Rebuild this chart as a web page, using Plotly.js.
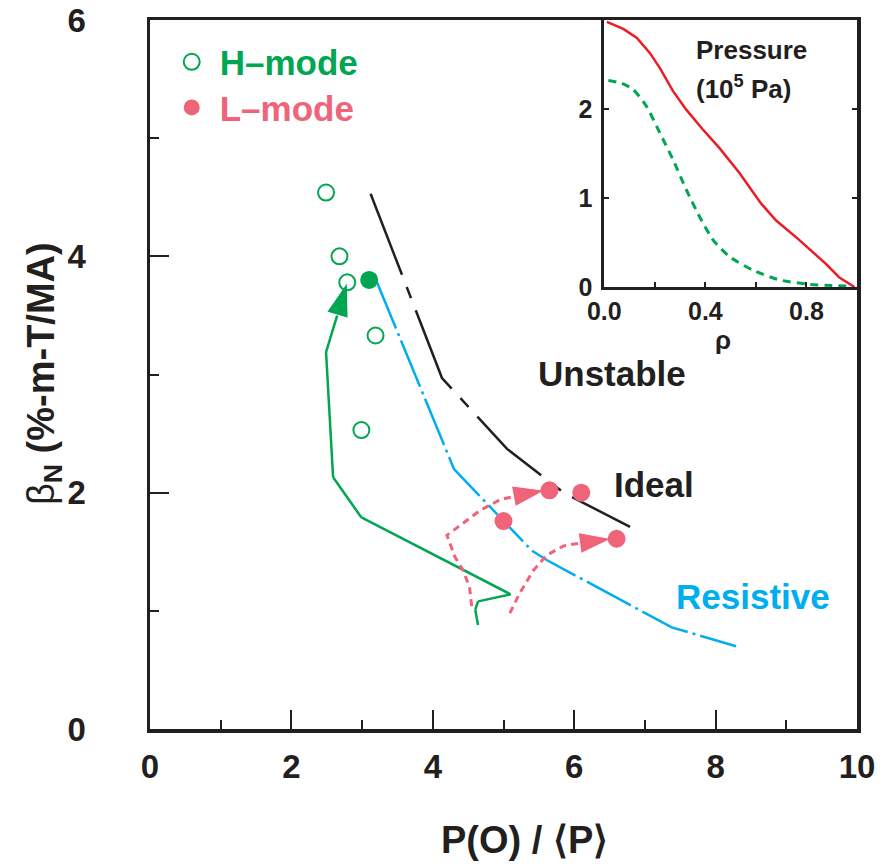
<!DOCTYPE html>
<html><head><meta charset="utf-8">
<script src="https://cdn.plot.ly/plotly-3.0.1.min.js"></script>
<style>html,body{margin:0;padding:0;background:#fff}</style>
</head><body><div id="chart" style="width:894px;height:864px"></div>
<script>
// ---- main panel data ----
const hModeX = [2.49, 2.68, 2.79, 3.19, 2.99];
const hModeY = [4.54, 4.00, 3.78, 3.33, 2.53];
const hModeFilledX = [3.10];
const hModeFilledY = [3.80];
const lModeX = [5.65, 6.10, 5.00, 6.60];
const lModeY = [2.02, 2.00, 1.76, 1.61];
const hPathX = [4.64, 4.60, 4.64, 5.10, 2.99, 2.59, 2.49, 2.67, 2.79];
const hPathY = [0.88, 1.01, 1.08, 1.14, 1.79, 2.13, 3.19, 3.54, 3.78];
const lPath1X = [4.55, 4.52, 4.43, 4.31, 4.20, 4.67, 4.95, 5.23, 5.59];
const lPath1Y = [1.04, 1.20, 1.34, 1.46, 1.64, 1.85, 1.94, 1.98, 2.02];
const lPath2X = [5.09, 5.23, 5.42, 5.61, 5.85, 6.15, 6.53];
const lPath2Y = [0.98, 1.15, 1.34, 1.47, 1.55, 1.58, 1.61];
const idealX = [3.12, 4.13, 5.05, 5.85, 6.79];
const idealY = [4.53, 2.97, 2.37, 2.00, 1.71];
const resistX = [3.21, 4.30, 5.40, 5.61, 7.38, 8.29];
const resistY = [3.78, 2.20, 1.51, 1.43, 0.86, 0.70];
const xTickVals = [0, 2, 4, 6, 8, 10];
const yTickVals = [0, 2, 4, 6];

// ---- inset: pressure profiles ----
const lProfRho = [0.01, 0.075, 0.128, 0.18, 0.22, 0.272, 0.325, 0.39, 0.456, 0.535, 0.62, 0.679, 0.771, 0.877, 0.929, 0.99];
const lProfP   = [2.98, 2.90, 2.80, 2.63, 2.46, 2.20, 1.99, 1.77, 1.56, 1.28, 0.94, 0.75, 0.53, 0.26, 0.11, 0.00];
const hProfRho = [0.016, 0.069, 0.114, 0.167, 0.22, 0.272, 0.325, 0.377, 0.43, 0.496, 0.587, 0.693, 0.811, 0.98];
const hProfP   = [2.32, 2.29, 2.22, 2.03, 1.73, 1.43, 1.09, 0.79, 0.53, 0.34, 0.19, 0.08, 0.03, 0.01];
const insetXTicks = [0, 0.4, 0.8];
const insetXText = ['0.0', '0.4', '0.8'];
const insetXMinor = [0.2, 0.6];
const insetYTicks = [0, 1, 2];

const GREEN = '#00A651', PINK = '#F0647A', CYAN = '#00AEEF', RED = '#ED1C24', INK = '#231F20';
const SANS = '"Liberation Sans", Arial, Helvetica, sans-serif';

function arrowSizes(n, s) { return Array.from({length: n}, (_, i) => i === n - 1 ? s : 0); }

const traces = [
  {x: idealX, y: idealY, mode: 'lines', line: {color: INK, width: 2.5, dash: '87px,13px,12px,13px'}, showlegend: false, hoverinfo: 'skip'},
  {x: resistX, y: resistY, mode: 'lines', line: {color: CYAN, width: 2.5, dash: '50px,5px,3px,5px'}, showlegend: false, hoverinfo: 'skip'},
  {x: hPathX, y: hPathY, mode: 'lines+markers', line: {color: GREEN, width: 2.5},
   marker: {symbol: 'arrow', angleref: 'previous', size: arrowSizes(hPathX.length, 36), color: GREEN, opacity: 1}, showlegend: false, hoverinfo: 'skip'},
  {x: lPath1X, y: lPath1Y, mode: 'lines+markers', line: {color: PINK, width: 3, dash: '7px,5px'},
   marker: {symbol: 'arrow', angleref: 'previous', size: arrowSizes(lPath1X.length, 34), color: PINK, opacity: 1}, showlegend: false, hoverinfo: 'skip'},
  {x: lPath2X, y: lPath2Y, mode: 'lines+markers', line: {color: PINK, width: 3, dash: '7px,5px'},
   marker: {symbol: 'arrow', angleref: 'previous', size: arrowSizes(lPath2X.length, 34), color: PINK, opacity: 1}, showlegend: false, hoverinfo: 'skip'},
  {x: hModeX, y: hModeY, mode: 'markers', marker: {symbol: 'circle-open', size: 16, color: GREEN, line: {width: 2}}, showlegend: false},
  {x: hModeFilledX, y: hModeFilledY, mode: 'markers', marker: {symbol: 'circle', size: 18, color: GREEN}, showlegend: false},
  {x: lModeX, y: lModeY, mode: 'markers', marker: {symbol: 'circle', size: 18, color: PINK}, showlegend: false},
  // legend keys
  {x: [null], y: [null], mode: 'markers', name: 'H–mode', marker: {symbol: 'circle-open', size: 16, color: GREEN, line: {width: 2}}, legend: 'legend'},
  {x: [null], y: [null], mode: 'markers', name: 'L–mode', marker: {symbol: 'circle', size: 18, color: PINK}, legend: 'legend2'},
  // inset
  {x: lProfRho, y: lProfP, xaxis: 'x2', yaxis: 'y2', mode: 'lines', line: {color: RED, width: 2.5}, showlegend: false},
  {x: hProfRho, y: hProfP, xaxis: 'x2', yaxis: 'y2', mode: 'lines', line: {color: GREEN, width: 3, dash: '8px,6px', shape: 'spline', smoothing: 0.6}, showlegend: false}
];

const axisCommon = {showline: true, mirror: true, linecolor: INK, showgrid: false, zeroline: false,
  ticks: 'inside', tickcolor: INK, tickwidth: 2};

const layout = {
  width: 894, height: 864,
  margin: {l: 150, r: 37, t: 20, b: 135},
  paper_bgcolor: '#fff', plot_bgcolor: '#fff',
  xaxis: Object.assign({}, axisCommon, {
    range: [0, 10], linewidth: 3.5, tickvals: xTickVals, ticklen: 19,
    minor: {dtick: 1, ticks: 'inside', ticklen: 9, tickwidth: 2, tickcolor: INK},
    tickfont: {family: SANS, size: 33, color: INK, weight: 'bold'}, ticklabelstandoff: 6
  }),
  yaxis: Object.assign({}, axisCommon, {
    range: [0, 6], linewidth: 3.5, tickvals: yTickVals, ticklen: 19,
    minor: {dtick: 1, ticks: 'inside', ticklen: 9, tickwidth: 2, tickcolor: INK},
    tickfont: {family: SANS, size: 33, color: INK, weight: 'bold'}, ticklabelstandoff: 54
  }),
  xaxis2: Object.assign({}, axisCommon, {
    domain: [0.6426, 1], anchor: 'y2', range: [0, 1], linewidth: 3,
    tickvals: insetXTicks, ticktext: insetXText, ticklen: 5,
    minor: {tickvals: insetXMinor, ticks: 'inside', ticklen: 5, tickwidth: 2, tickcolor: INK},
    tickfont: {family: SANS, size: 25, color: INK, weight: 'bold'}, ticklabelstandoff: 0
  }),
  yaxis2: Object.assign({}, axisCommon, {
    domain: [0.6234, 1], anchor: 'x2', range: [0, 3], linewidth: 3, mirror: 'ticks',
    tickvals: insetYTicks, ticklen: 5,
    tickfont: {family: SANS, size: 25, color: INK, weight: 'bold'}, ticklabelstandoff: 4
  }),
  legend: {x: 0.0194, xanchor: 'left', y: 0.9407, yanchor: 'middle', bgcolor: 'rgba(0,0,0,0)', borderwidth: 0,
    itemwidth: 46, font: {family: SANS, size: 35, color: GREEN, weight: 'bold'}},
  legend2: {x: 0.0194, xanchor: 'left', y: 0.8763, yanchor: 'middle', bgcolor: 'rgba(0,0,0,0)', borderwidth: 0,
    itemwidth: 46, font: {family: SANS, size: 35, color: PINK, weight: 'bold'}},
  annotations: [
    {x: -0.15, y: 0.502, xref: 'paper', yref: 'paper', xanchor: 'center', yanchor: 'middle', textangle: -90, showarrow: false,
     text: '<span style="font-weight:normal">β</span><sub>N</sub> (%-m-T/MA)', font: {family: SANS, size: 38, color: INK, weight: 'bold'}},
    {x: 0.529, y: -0.1566, xref: 'paper', yref: 'paper', xanchor: 'center', yanchor: 'middle', showarrow: false,
     text: 'P(O) / ⟨P⟩', font: {family: SANS, size: 38, color: INK, weight: 'bold'}},
    {x: 6.54, y: 3.01, xref: 'x', yref: 'y', xanchor: 'center', yanchor: 'middle', text: 'Unstable', showarrow: false, font: {family: SANS, size: 35, color: INK, weight: 'bold'}},
    {x: 7.13, y: 2.07, xref: 'x', yref: 'y', xanchor: 'center', yanchor: 'middle', text: 'Ideal', showarrow: false, font: {family: SANS, size: 35, color: INK, weight: 'bold'}},
    {x: 8.53, y: 1.12, xref: 'x', yref: 'y', xanchor: 'center', yanchor: 'middle', text: 'Resistive', showarrow: false, font: {family: SANS, size: 35, color: CYAN, weight: 'bold'}},
    {x: 0.582, y: 2.666, xref: 'x2', yref: 'y2', xanchor: 'center', yanchor: 'middle', text: 'Pressure', showarrow: false, font: {family: SANS, size: 26, color: INK, weight: 'bold'}},
    {x: 0.551, y: 2.238, xref: 'x2', yref: 'y2', xanchor: 'center', yanchor: 'middle', text: '(10<sup>5</sup> Pa)', showarrow: false, font: {family: SANS, size: 26, color: INK, weight: 'bold'}},
    {x: 0.8105, y: 0.5487, xref: 'paper', yref: 'paper', xanchor: 'center', yanchor: 'middle', text: 'ρ', showarrow: false, font: {family: SANS, size: 26, color: INK, weight: 'bold'}}
  ]
};

Plotly.newPlot('chart', traces, layout, {staticPlot: true, displayModeBar: false});
</script>
</body></html>
